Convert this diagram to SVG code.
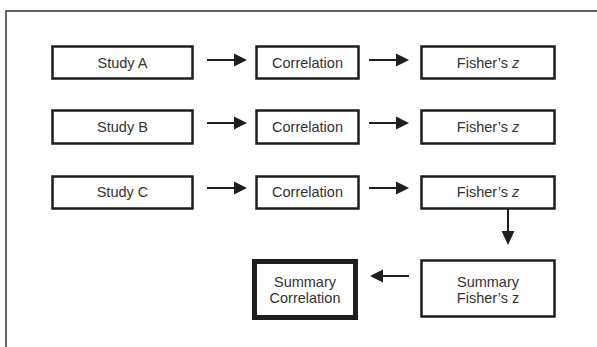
<svg xmlns="http://www.w3.org/2000/svg" width="597" height="347" viewBox="0 0 597 347">
<style>
.box{fill:#fff;stroke:#1e1e1e;stroke-width:2.5}
.thick{fill:#fff;stroke:#1e1e1e;stroke-width:5}
.t{font-family:"Liberation Sans",Arial,sans-serif;font-size:14.5px;fill:#333;text-anchor:middle}
.conn{stroke:#1e1e1e;stroke-width:2;fill:none}
.head{fill:#1e1e1e}
</style>
<rect width="597" height="347" fill="#fff"/>
<path d="M6,347 V11 H597" fill="none" stroke="#333" stroke-width="1.5"/>
<g id="studyA"><rect class="box" x="52.5" y="46.5" width="140" height="32"/><text class="t" x="122.5" y="68">Study A</text></g>
<g id="corrA"><rect class="box" x="256.5" y="46.5" width="102" height="32"/><text class="t" x="307.5" y="68">Correlation</text></g>
<g id="fisherA"><rect class="box" x="421.5" y="46.5" width="133" height="32"/><text class="t" x="488" y="68">Fisher’s <tspan font-style="italic">z</tspan></text></g>
<g id="studyB"><rect class="box" x="52.5" y="110.5" width="140" height="33"/><text class="t" x="122.5" y="132">Study B</text></g>
<g id="corrB"><rect class="box" x="256.5" y="110.5" width="102" height="33"/><text class="t" x="307.5" y="132">Correlation</text></g>
<g id="fisherB"><rect class="box" x="421.5" y="110.5" width="133" height="33"/><text class="t" x="488" y="132">Fisher’s <tspan font-style="italic">z</tspan></text></g>
<g id="studyC"><rect class="box" x="52.5" y="176.5" width="140" height="32"/><text class="t" x="122.5" y="197">Study C</text></g>
<g id="corrC"><rect class="box" x="256.5" y="176.5" width="102" height="32"/><text class="t" x="307.5" y="197">Correlation</text></g>
<g id="fisherC"><rect class="box" x="421.5" y="176.5" width="133" height="32"/><text class="t" x="488" y="197">Fisher’s <tspan font-style="italic">z</tspan></text></g>
<g id="sumFisher"><rect class="box" x="421.5" y="260.5" width="133" height="56"/><text class="t" x="488" y="287">Summary</text><text class="t" x="488" y="303">Fisher’s z</text></g>
<g id="sumCorr"><rect class="thick" x="254.5" y="261.5" width="101" height="56"/><text class="t" x="305" y="287">Summary</text><text class="t" x="305" y="303">Correlation</text></g>
<g id="connectors">
<line class="conn" x1="207" y1="60" x2="236" y2="60"/><path class="head" d="M234,53.5 L247,60 L234,66.5 Z"/>
<line class="conn" x1="369" y1="60" x2="398" y2="60"/><path class="head" d="M396,53.5 L409,60 L396,66.5 Z"/>
<line class="conn" x1="207" y1="123" x2="236" y2="123"/><path class="head" d="M234,116.5 L247,123 L234,129.5 Z"/>
<line class="conn" x1="369" y1="123" x2="398" y2="123"/><path class="head" d="M396,116.5 L409,123 L396,129.5 Z"/>
<line class="conn" x1="207" y1="188" x2="236" y2="188"/><path class="head" d="M234,181.5 L247,188 L234,194.5 Z"/>
<line class="conn" x1="369" y1="188" x2="398" y2="188"/><path class="head" d="M396,181.5 L409,188 L396,194.5 Z"/>
<line class="conn" x1="508" y1="209" x2="508" y2="233"/><path class="head" d="M501.5,231 L508,245 L514.5,231 Z"/>
<line class="conn" x1="409" y1="276" x2="381" y2="276"/><path class="head" d="M383,269.5 L370,276 L383,282.5 Z"/>
</g>
</svg>
